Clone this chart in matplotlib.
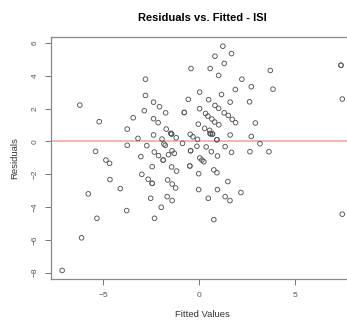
import numpy as np
import matplotlib.pyplot as plt

plt.rcParams['font.family'] = ['Liberation Sans', 'DejaVu Sans']

# fitted values and residuals
fitted = [-7.14, -6.13, -6.22, -5.78, -5.33, -5.40, -5.21, -4.86, -4.67, -4.65,
          -4.11, -3.78, -3.75, -3.75, -3.44, -3.19, -3.04, -2.99, -2.86, -2.80,
          -2.80, -2.73, -2.66, -2.53, -2.45, -2.45, -2.45, -2.38, -2.38, -2.38,
          -2.34, -2.33, -2.14, -2.12, -2.07, -1.98, -1.94, -1.88, -1.88, -1.84,
          -1.77, -1.75, -1.72, -1.67, -1.65, -1.60, -1.49, -1.44, -1.44, -1.42,
          -1.44, -1.41, -1.41, -1.30, -1.23, -1.20, -1.18, -0.87, -0.78, -0.78,
          -0.57, -0.43, -0.49, -0.49, -0.45, -0.45, -0.47, -0.33, -0.12, -0.09,
          -0.05, -0.03, -0.03, 0.02, 0.02, 0.03, 0.14, 0.24, 0.28, 0.33,
          0.36, 0.45, 0.47, 0.49, 0.54, 0.57, 0.56, 0.59, 0.63, 0.66,
          0.69, 0.69, 0.82, 0.76, 0.76, 0.80, 0.82, 0.92, 0.92, 0.92,
          0.95, 0.95, 1.01, 1.01, 1.02, 1.16, 1.23, 1.30, 1.30, 1.35,
          1.35, 1.49, 1.51, 1.60, 1.61, 1.61, 1.68, 1.68, 1.72, 1.88,
          1.89, 2.17, 2.22, 2.62, 2.64, 2.71, 2.71, 2.92, 3.16, 3.63,
          3.70, 3.84, 7.38, 7.38, 7.45, 7.45]
residuals = [-7.87, -5.88, 2.21, -3.20, -4.69, -0.61, 1.20, -1.14, -1.34, -2.33,
             -2.88, -4.22, -0.24, 0.75, 1.44, 0.18, -0.93, -2.01, 1.87, 2.80,
             3.79, -0.26, -2.31, -3.47, -2.56, -2.56, -1.54, 0.39, 1.38, 2.39,
             -0.65, -4.69, 1.14, -0.87, 2.11, -4.02, 0.14, -1.14, -1.14, -0.16,
             -0.24, 1.74, 0.75, -3.37, -2.35, -0.81, 0.49, 0.45, 0.45, -0.57,
             -1.56, -2.60, -3.61, -0.73, -2.84, 0.22, -1.81, -0.12, 1.76, 1.76,
             2.56, 4.44, -1.50, -1.50, -0.57, -0.57, 0.43, 0.28, -0.30, 0.12,
             1.05, -1.97, -2.94, 1.99, 3.00, -1.01, -1.14, -1.24, 0.79, 1.70,
             -0.34, 1.54, -3.47, 2.54, 0.67, 4.44, 0.49, 0.45, -0.63, 1.36,
             0.45, 0.45, 5.19, -4.77, -1.74, 1.18, 2.19, -1.91, 0.10, 0.10,
             -0.89, -2.94, 4.02, 2.01, 1.01, 2.86, 5.80, 4.75, 1.74, -0.32,
             -3.37, -2.45, 1.58, -3.61, 2.39, 0.39, 5.35, -0.67, 1.34, 3.16,
             1.14, -3.12, 3.79, 2.41, -0.63, 3.33, 0.30, 1.12, -0.14, -0.63,
             4.32, 3.18, 4.64, 4.64, 2.58, -4.44]

fig = plt.figure(figsize=(3.47, 3.22), dpi=100)
ax = fig.add_axes([0.147, 0.132, 0.8715, 0.7525])

ax.scatter(fitted, residuals, s=11, facecolors='none', edgecolors='#555555', linewidths=0.65, zorder=3)
ax.axhline(0, color='#f0a8a8', lw=1.2, zorder=2)

ax.set_xlim(-7.72, 8.03)
ax.set_ylim(-8.42, 6.35)
ax.set_xticks([-5, 0, 5])
ax.set_yticks([-8, -6, -4, -2, 0, 2, 4, 6])
ax.tick_params(direction='out', length=4, width=0.7, color='#777777',
               labelsize=6, labelcolor='#555555', pad=5)
for lab in ax.get_yticklabels():
    lab.set_rotation(90)
    lab.set_va('center')
for sp in ax.spines.values():
    sp.set_color('#888888')
    sp.set_linewidth(0.9)

ax.set_title('Residuals vs. Fitted - ISI', fontsize=8, fontweight='bold', pad=12)
ax.set_xlabel('Fitted Values', fontsize=6.8, color='#333333', labelpad=8)
ax.set_ylabel('Residuals', fontsize=6.8, color='#333333', labelpad=9)

fig.savefig('out.png', dpi=100)
